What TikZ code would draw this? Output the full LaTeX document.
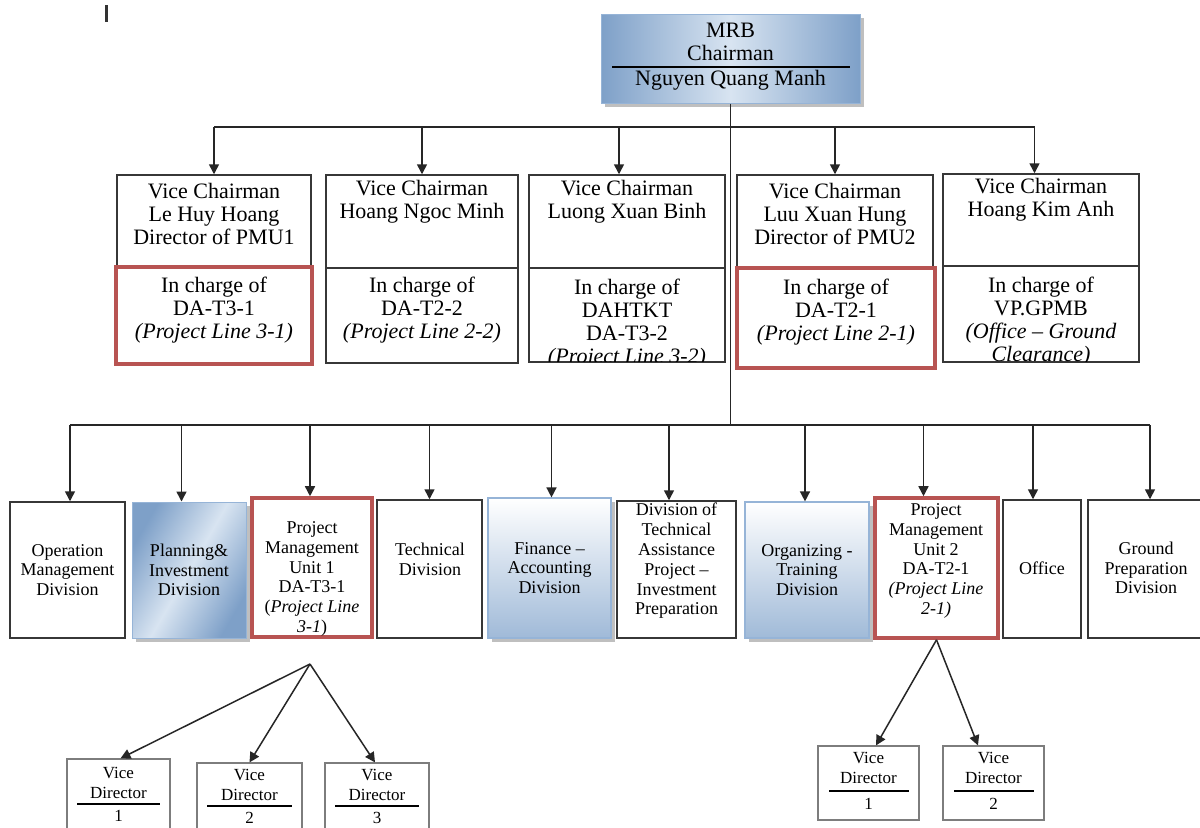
\documentclass[tikz,border=0pt]{standalone}
\usepackage{fontspec}
\setmainfont{Liberation Serif}
\usetikzlibrary{arrows.meta,fit,shadows}
\definecolor{redb}{RGB}{184,84,82}
\definecolor{boxline}{RGB}{55,55,55}
\definecolor{bluel}{RGB}{216,228,241}
\definecolor{blued}{RGB}{126,160,200}
\definecolor{bluee}{RGB}{150,180,215}
\definecolor{bluef}{RGB}{160,186,216}
\definecolor{vdline}{RGB}{125,125,125}
\begin{document}
\begin{tikzpicture}[x=0.5pt,y=-0.5pt,
  box/.style={draw=boxline, line width=0.75pt, inner sep=0pt, fill=white},
  redbox/.style={draw=redb, line width=1.8pt, inner sep=0pt, fill=white},
  shadowed/.style={drop shadow={shadow xshift=2pt, shadow yshift=-2pt, fill=black!50, opacity=0.5}},
  sidebox/.style={draw=bluee, line width=0.5pt, inner sep=0pt, left color=blued, right color=blued, middle color=bluel, shadowed},
  vertbox/.style={draw=bluee, line width=0.6pt, inner sep=0pt, top color=white, bottom color=bluef, shadowed},
  vdbox/.style={draw=vdline, line width=0.6pt, inner sep=0pt, fill=white},
  conn/.style={draw=black!85, line width=0.75pt},
  arr/.style={conn, -{Triangle[length=5pt,width=5pt]}},
  tA/.style={font=\fontsize{11}{11.5}\selectfont, align=center, inner sep=0pt},
  tB/.style={font=\fontsize{9}{9.9}\selectfont, align=center, inner sep=0pt},
  tC/.style={font=\fontsize{8.5}{10}\selectfont, align=center, inner sep=0pt},
  rule/.style={draw=black, line width=0.6pt}
]
\useasboundingbox (0,0) rectangle (1200,827);
\clip (0,0) rectangle (1200,827);
\fill[white] (0,0) rectangle (1200,827);

% stray mark
\fill[black!80] (105,5) rectangle (108,22);

% ---------- chairman ----------
\node[sidebox, fit={(601,14) (860,103)}] (chair) {};
\node[tA] (chairT) at (730.5,41.5) {MRB\\Chairman};
\draw[rule] (612,67) -- (850,67);
\node[tA] (chairN) at (730.5,80) {Nguyen Quang Manh};

% ---------- vice chairmen ----------
\node[box, fit={(117,175) (311,267)}] (vc1) {};
\node[redbox, fit={(116,267) (312,364)}] (ic1) {};
\node[box, fit={(326,175) (518,268)}] (vc2) {};
\node[box, fit={(326,268) (518,363)}] (ic2) {};
\node[box, fit={(529,175) (725,268)}] (vc3) {};
\node[box, fit={(529,268) (725,362)}] (ic3) {};
\node[box, fit={(737,175) (933,268)}] (vc4) {};
\node[redbox, fit={(737,268) (935,368)}] (ic4) {};
\node[box, fit={(943,174) (1139,266)}] (vc5) {};
\node[box, fit={(943,266) (1139,362)}] (ic5) {};

\node[tA] (vc1t) at (214,214) {Vice Chairman\\Le Huy Hoang\\Director of PMU1};
\node[tA] (vc2t) at (422,201.5) {Vice Chairman\\Hoang Ngoc Minh};
\node[tA] (vc3t) at (627,201.5) {Vice Chairman\\Luong Xuan Binh};
\node[tA] (vc4t) at (835,214) {Vice Chairman\\Luu Xuan Hung\\Director of PMU2};
\node[tA] (vc5t) at (1041,200) {Vice Chairman\\Hoang Kim Anh};
\node[tA] (ic1t) at (214,310) {In charge of\\DA-T3-1\\\textit{(Project Line 3-1)}};
\node[tA] (ic2t) at (422,310) {In charge of\\DA-T2-2\\\textit{(Project Line 2-2)}};
\begin{scope}
  \clip (530,269) rectangle (724,361);
  \node[tA] (ic3t) at (627,324) {In charge of\\DAHTKT\\DA-T3-2\\\textit{(Project Line 3-2)}};
\end{scope}
\node[tA] (ic4t) at (836,312) {In charge of\\DA-T2-1\\\textit{(Project Line 2-1)}};
\begin{scope}
  \clip (944,267) rectangle (1138,361);
  \node[tA] (ic5t) at (1041,322) {In charge of\\VP.GPMB\\\textit{(Office – Ground}\\\textit{Clearance)}};
\end{scope}

% ---------- divisions ----------
\node[box, fit={(10,502) (125,638)}] (dA) {};
\node[sidebox, shading angle=60, fit={(132,502) (246,638)}] (dB) {};
\node[redbox, fit={(252,498) (372,637)}] (dC) {};
\node[box, fit={(377,500) (482,638)}] (dD) {};
\node[vertbox, fit={(488,498) (611,638)}] (dE) {};
\node[box, fit={(617,501) (736,638)}] (dF) {};
\node[vertbox, fit={(745,502) (869,638)}] (dG) {};
\node[redbox, fit={(875,498) (998,638)}] (dH) {};
\node[box, fit={(1003,500) (1081,638)}] (dI) {};
\node[box, fit={(1088,500) (1212,638)}] (dJ) {};

\node[tB] (dAt) at (67.5,570) {Operation\\Management\\Division};
\node[tB] (dBt) at (189,570) {Planning\&\\Investment\\Division};
\node[tB] (dCt) at (312,579) {Project\\Management\\Unit 1\\DA-T3-1\\(\textit{Project Line}\\\textit{3-1})};
\node[tB] (dDt) at (430,559) {Technical\\Division};
\node[tB] (dEt) at (549.5,568) {Finance –\\Accounting\\Division};
\node[tB] (dFt) at (676.5,561) {Division of\\Technical\\Assistance\\Project –\\Investment\\Preparation};
\node[tB] (dGt) at (807,570) {Organizing -\\Training\\Division};
\node[tB] (dHt) at (936,561) {Project\\Management\\Unit 2\\DA-T2-1\\\textit{(Project Line}\\\textit{2-1)}};
\node[tB] (dIt) at (1042,568) {Office};
\node[tB] (dJt) at (1146,568) {Ground\\Preparation\\Division};

% ---------- vice directors ----------
\node[vdbox, fit={(67,759) (170,840)}] (vdL1) {};
\node[vdbox, fit={(197,763) (302,840)}] (vdL2) {};
\node[vdbox, fit={(325,763) (429,840)}] (vdL3) {};
\node[vdbox, fit={(818,746) (919,820)}] (vdR1) {};
\node[vdbox, fit={(943,746) (1044,820)}] (vdR2) {};

\node[tC] (vdL1t) at (118.5,783) {Vice\\Director};
\draw[rule] (77,804) -- (160,804);
\node[tC] (vdL1n) at (118.5,816) {1};
\node[tC] (vdL2t) at (249.5,785) {Vice\\Director};
\draw[rule] (207,806) -- (292,806);
\node[tC] (vdL2n) at (249.5,818) {2};
\node[tC] (vdL3t) at (377,785) {Vice\\Director};
\draw[rule] (335,806) -- (419,806);
\node[tC] (vdL3n) at (377,818) {3};
\node[tC] (vdR1t) at (868.5,768) {Vice\\Director};
\draw[rule] (829,791) -- (909,791);
\node[tC] (vdR1n) at (868.5,804) {1};
\node[tC] (vdR2t) at (993.5,768) {Vice\\Director};
\draw[rule] (954,791) -- (1034,791);
\node[tC] (vdR2n) at (993.5,804) {2};

% ---------- connectors ----------
\coordinate (bus1) at (730,127);
\coordinate (bus2) at (730,425);
\coordinate (a1) at (vc1.north);
\coordinate (a2) at (vc2.north);
\coordinate (a3) at ([xshift=-4pt]vc3.north);
\coordinate (a4) at (vc4.north);
\coordinate (a5) at ([xshift=-3.25pt]vc5.north);
\draw[conn] (chair.south) -- (chair.south |- bus2);
\draw[conn] (a1 |- bus1) -- (a5 |- bus1);
\foreach \i in {1,...,5} { \draw[arr] (a\i |- bus1) -- (a\i); }

\coordinate (bA) at ([xshift=1.25pt]dA.north);
\coordinate (bB) at ([xshift=-3.75pt]dB.north);
\coordinate (bC) at ([xshift=-1pt]dC.north);
\coordinate (bD) at (dD.north);
\coordinate (bE) at ([xshift=1pt]dE.north);
\coordinate (bF) at ([xshift=-3.75pt]dF.north);
\coordinate (bG) at ([xshift=-1pt]dG.north);
\coordinate (bH) at ([xshift=-6.5pt]dH.north);
\coordinate (bI) at ([xshift=-4.5pt]dI.north);
\coordinate (bJ) at (dJ.north);
\draw[conn] (bA |- bus2) -- (bJ |- bus2);
\foreach \i in {A,B,C,D,E,F,G,H,I,J} { \draw[arr] (b\i |- bus2) -- (b\i); }

\coordinate (fan1) at (310,664);
\draw[arr] (fan1) -- ([xshift=1pt]vdL1.north);
\draw[arr] (fan1) -- (vdL2.north);
\draw[arr] (fan1) -- ([xshift=-1pt]vdL3.north);
\draw[arr] (dH.south) -- ([xshift=3.75pt]vdR1.north);
\draw[arr] (dH.south) -- ([xshift=-7.75pt]vdR2.north);
\end{tikzpicture}
\end{document}
